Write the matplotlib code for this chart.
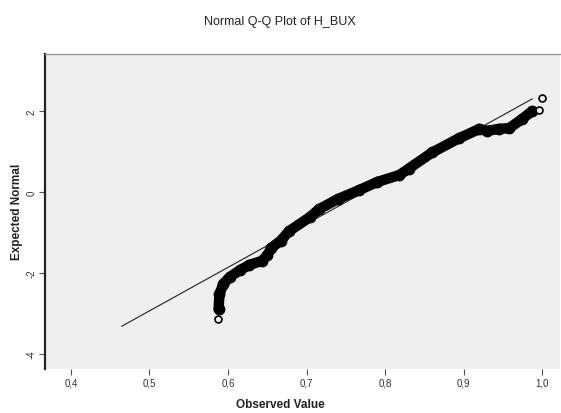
import matplotlib
matplotlib.use("Agg")
import matplotlib.pyplot as plt

plt.rcParams["font.family"] = ["Liberation Sans", "DejaVu Sans"]

observed = [0.5868, 0.588, 0.589, 0.594, 0.602, 0.615, 0.627, 0.643, 0.650, 0.655,
            0.667, 0.678, 0.704, 0.716, 0.740, 0.767, 0.790, 0.818, 0.830, 0.860,
            0.894, 0.920, 0.929, 0.945, 0.958, 0.974, 0.987, 0.996, 1.000]
expected = [-3.14, -2.89, -2.52, -2.27, -2.10, -1.93, -1.80, -1.70, -1.56, -1.38,
            -1.20, -0.96, -0.62, -0.42, -0.17, 0.05, 0.25, 0.42, 0.58, 0.98,
            1.33, 1.56, 1.51, 1.56, 1.58, 1.80, 2.00, 2.02, 2.32]

# Reference normal line end points
line_x = [0.465, 0.987]
line_y = [-3.31, 2.30]

xticks = [0.4, 0.5, 0.6, 0.7, 0.8, 0.9, 1.0]
xtick_labels = ["0,4", "0,5", "0,6", "0,7", "0,8", "0,9", "1,0"]
yticks = [-4, -2, 0, 2]
ytick_labels = ["-4", "-2", "0", "2"]

fig = plt.figure(figsize=(5.61, 4.14), dpi=100)
ax = fig.add_axes([45/561, 1-370/414, (560-45)/561, (370-55)/414])
ax.set_facecolor("#efefef")

ax.plot(line_x, line_y, color="#333333", lw=0.9, zorder=2)

# dense band of overlapping circles
ax.plot(observed[1:-2], expected[1:-2], color="black", lw=7.5,
        solid_capstyle="round", solid_joinstyle="round", zorder=3)
ax.plot(observed[1:-2], expected[1:-2], linestyle="none", marker="o", ms=7.5,
        mfc="black", mec="black", zorder=3)
ends_x = [observed[0], observed[-2], observed[-1]]
ends_y = [expected[0], expected[-2], expected[-1]]
ax.plot(ends_x, ends_y, linestyle="none", marker="o", ms=5, mfc="#efefef",
        mec="black", mew=1.2, zorder=4)

ax.set_xlim(0.367, 1.0225)
ax.set_ylim(-4.37, 3.41)
ax.set_xticks(xticks)
ax.set_xticklabels(xtick_labels, fontsize=7, color="#333333")
ax.set_yticks(yticks)
ax.set_yticklabels(ytick_labels, fontsize=7, color="#333333", rotation=90, va="center")
ax.tick_params(direction="out", length=4, width=0.8, color="#555555", pad=2)

for s in ["right", "bottom"]:
    ax.spines[s].set_visible(False)
ax.spines["top"].set_color("#999999")
ax.spines["top"].set_linewidth(1.0)
ax.spines["left"].set_color("#222222")
ax.spines["left"].set_linewidth(1.6)

fig.text(280/561, 1-22/414, "Normal Q-Q Plot of H_BUX", ha="center", va="center",
         fontsize=9, color="#222222")
fig.text(280/561, 1-405/414, "Observed Value", ha="center", va="center",
         fontsize=8.5, fontweight="bold", color="#222222")
fig.text(17/561, 1-212/414, "Expected Normal", ha="center", va="center",
         fontsize=8.5, fontweight="bold", color="#222222", rotation=90)

fig.savefig("out.png", dpi=100, facecolor="white")
